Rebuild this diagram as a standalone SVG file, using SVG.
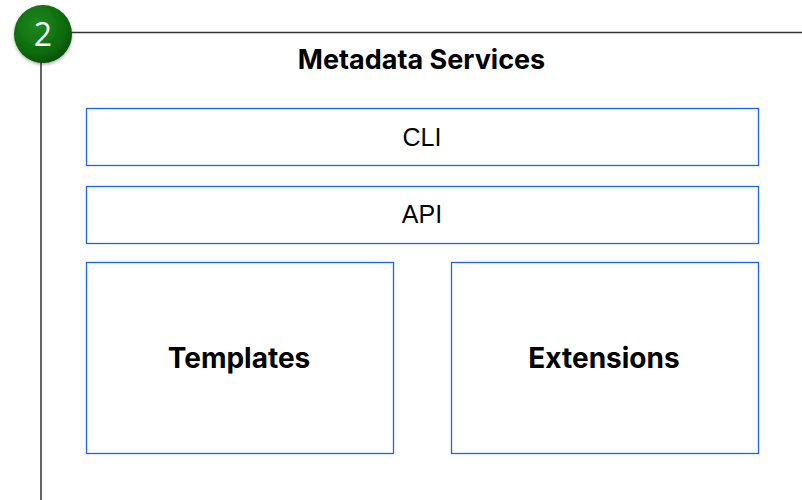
<svg xmlns="http://www.w3.org/2000/svg" width="802" height="500" viewBox="0 0 802 500">
<defs>
<radialGradient id="g" cx="0.4" cy="0.35" r="0.7">
<stop offset="0" stop-color="#1f8a1f"/>
<stop offset="0.7" stop-color="#0b6a0b"/>
<stop offset="1" stop-color="#064a06"/>
</radialGradient>
<filter id="sh" x="-30%" y="-30%" width="160%" height="160%">
<feDropShadow dx="0" dy="1.5" stdDeviation="1.5" flood-color="#000" flood-opacity="0.35"/>
</filter>
</defs>
<style>
.box{fill:#fff;stroke:#1a66e8;stroke-width:1.3}
.reg{font-family:"Liberation Sans",Arial,sans-serif;font-size:25px;fill:#000;text-anchor:middle}
.bold{font-family:Inter,"Liberation Sans",sans-serif;font-weight:bold;font-size:27px;fill:#000;text-anchor:middle}
.lbl{font-size:28px}
.frame{fill:none;stroke:#333;stroke-width:1.5}
</style>
<rect width="802" height="500" fill="#fff"/>
<g id="frame">
<polyline class="frame" points="802,32.5 41,32.5 41,500"/>
</g>
<g id="badge">
<circle cx="43" cy="34" r="29" fill="url(#g)" filter="url(#sh)"/>
<text x="43" y="46" font-family="'Open Sans','Liberation Sans',sans-serif" font-size="32" fill="#fff" text-anchor="middle">2</text>
</g>
<g id="title">
<text class="bold" x="421.5" y="69">Metadata Services</text>
</g>
<g id="cli">
<rect class="box" x="86.5" y="108.5" width="672" height="57"/>
<text class="reg" x="422" y="146">CLI</text>
</g>
<g id="api">
<rect class="box" x="86.5" y="186.5" width="672" height="57"/>
<text class="reg" x="422" y="223">API</text>
</g>
<g id="templates">
<rect class="box" x="86.5" y="262.5" width="307" height="191"/>
<text class="bold lbl" x="239" y="368">Templates</text>
</g>
<g id="extensions">
<rect class="box" x="451.5" y="262.5" width="307" height="191"/>
<text class="bold lbl" x="604" y="368">Extensions</text>
</g>
<g id="connectors"/>
</svg>
